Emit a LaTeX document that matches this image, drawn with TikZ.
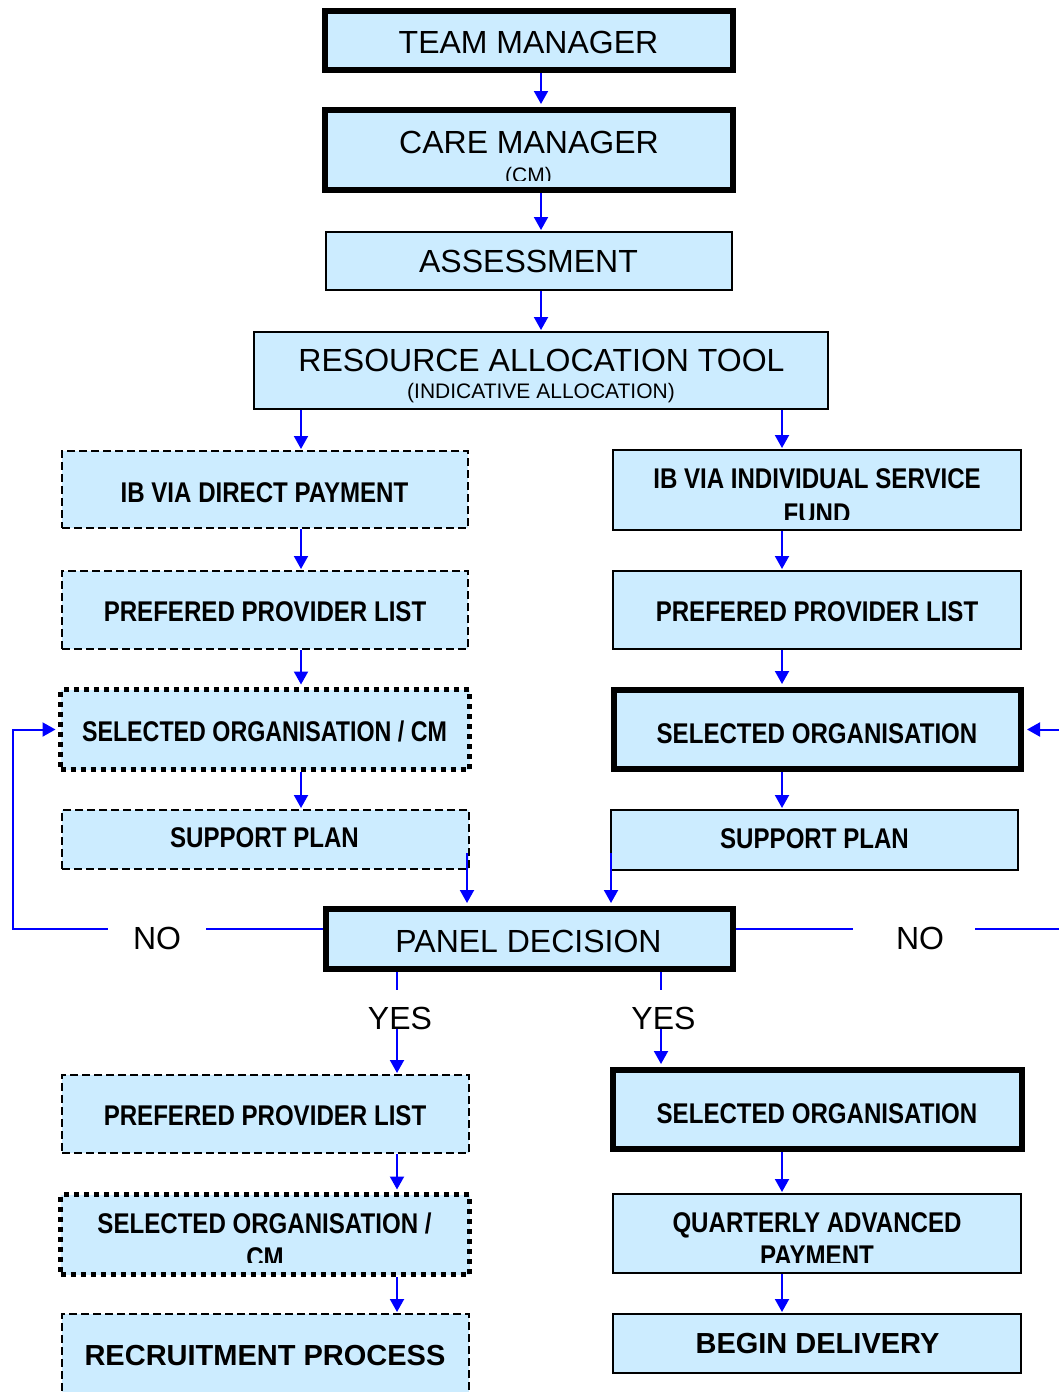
\documentclass[tikz,border=0pt]{standalone}
\usepackage{fontspec}
\setmainfont{Liberation Sans}
\newfontfamily\narrowfont{Liberation Sans}[FakeStretch=0.845]
\usetikzlibrary{arrows.meta}
\definecolor{boxblue}{RGB}{204,236,255}
\definecolor{linkblue}{RGB}{0,0,255}
\begin{document}
\begin{tikzpicture}[x=1pt,y=-1pt,
  base/.style={draw=black, fill=boxblue, inner sep=0pt},
  thinbox/.style={base, line width=2pt},
  thickbox/.style={base, line width=6pt},
  dashbox/.style={base, line width=2pt, dash pattern=on 8pt off 4pt},
  dotbox/.style={base, line width=5pt, dash pattern=on 5pt off 5pt},
  sz/.style 2 args={minimum width=#1pt, minimum height=#2pt},
  reg/.style={anchor=base, inner sep=0pt, font=\fontsize{32}{38}\selectfont},
  small/.style={anchor=base, inner sep=0pt, font=\fontsize{21}{25}\selectfont},
  nb/.style={anchor=base, inner sep=0pt, font=\narrowfont\bfseries\fontsize{28.5}{34}\selectfont},
  wb/.style={anchor=base, inner sep=0pt, font=\bfseries\fontsize{29}{34}\selectfont},
  arr/.style={draw=linkblue, line width=2pt, -{Triangle[width=14pt,length=13pt]}, shorten >=1pt},
  tothick/.style={shorten >=3pt},
  todot/.style={shorten >=2.5pt},
]
\useasboundingbox (0,0) rectangle (1059,1392);
\fill[white] (0,0) rectangle (1059,1392);
\clip (0,0) rectangle (1059,1392);

% ---- top column
\node[thickbox, sz={408}{59}] (tm) at (529,40.5) {};
\node[reg] (tmt) at (528.5,53) {TEAM MANAGER};
\node[thickbox, sz={408}{80}] (cm) at (529,150) {};
\node[reg] (cmt) at (529,153) {CARE MANAGER};
\begin{scope}
  \clip (330,112) rectangle (730,180.5);
  \node[small] (cmt2) at (528.5,182) {(CM)};
\end{scope}
\node[thinbox, sz={406}{58}] (as) at (529,261) {};
\node[reg] (ast) at (528.5,272) {ASSESSMENT};
\node[thinbox, sz={574}{77}] (rat) at (541,370.5) {};
\node[reg] (ratt) at (541.5,371) {RESOURCE ALLOCATION TOOL};
\node[small] (ratt2) at (541,398) {(INDICATIVE ALLOCATION)};

% ---- left column
\node[dashbox, sz={406}{77}] (lib) at (265,489.5) {};
\node[nb] (libt) at (264.5,502) {IB VIA DIRECT PAYMENT};
\node[dashbox, sz={406}{78}] (lppl) at (265,610) {};
\node[nb] (lpplt) at (265,621) {PREFERED PROVIDER LIST};
\node[dotbox, sz={409}{80}] (lsocm) at (265,729.5) {};
\node[nb] (lsocmt) at (264.5,741) {\scalebox{0.965}[1]{SELECTED ORGANISATION / CM}};
\node[dashbox, sz={407}{59}] (lsp) at (265.5,839.5) {};
\node[nb] (lspt) at (264.5,847) {SUPPORT PLAN};

% ---- right column
\node[thinbox, sz={408}{80}] (rib) at (817,490) {};
\node[nb] (ribt) at (817,488) {IB VIA INDIVIDUAL SERVICE};
\begin{scope}
  \clip (620,455) rectangle (1015,519);
  \node[nb] (ribt2) at (817,523.5) {FUND};
\end{scope}
\node[thinbox, sz={408}{78}] (rppl) at (817,610) {};
\node[nb] (rpplt) at (817,621) {PREFERED PROVIDER LIST};
\node[thickbox, sz={407}{79}] (rso) at (817.5,729.5) {};
\node[nb] (rsot) at (817,743) {SELECTED ORGANISATION};
\node[thinbox, sz={407}{60}] (rsp) at (814.5,840) {};
\node[nb] (rspt) at (814.5,848) {SUPPORT PLAN};

% ---- panel
\node[thickbox, sz={407}{60}] (panel) at (529.5,939) {};
\node[reg] (panelt) at (528.5,952) {PANEL DECISION};

% ---- bottom left
\node[dashbox, sz={407}{78}] (lppl2) at (265.5,1114) {};
\node[nb] (lppl2t) at (265,1125) {PREFERED PROVIDER LIST};
\node[dotbox, sz={409}{80}] (lsocm2) at (265,1234.5) {};
\node[nb] (lsocm2t) at (264.5,1233) {SELECTED ORGANISATION /};
\begin{scope}
  \clip (65,1198) rectangle (465,1262);
  \node[nb] (lsocm2t2) at (265,1267) {CM};
\end{scope}
\node[dashbox, sz={407}{125}] (lrp) at (265.5,1376.5) {};
\node[wb] (lrpt) at (265,1365) {RECRUITMENT PROCESS};

% ---- bottom right
\node[thickbox, sz={409}{79}] (rso2) at (817.5,1109.5) {};
\node[nb] (rso2t) at (817,1123) {SELECTED ORGANISATION};
\node[thinbox, sz={408}{79}] (rqap) at (817,1233.5) {};
\node[nb] (rqapt) at (817,1232) {QUARTERLY ADVANCED};
\begin{scope}
  \clip (620,1198) rectangle (1015,1262);
  \node[nb] (rqapt2) at (817,1265.5) {PAYMENT};
\end{scope}
\node[thinbox, sz={408}{59}] (rbd) at (817,1343.5) {};
\node[wb] (rbdt) at (817.5,1353) {BEGIN DELIVERY};

% ---- connector columns
\coordinate (xc) at (541,0);
\coordinate (xl) at (301,0);
\coordinate (xr) at (782,0);
\coordinate (xbl) at (397,0);
\coordinate (xbr) at (661,0);
\coordinate (noy) at (0,929);
\coordinate (lturn) at (13,929);
\coordinate (rturn) at (1085,929);
\coordinate (lspout) at (467,853);
\coordinate (rspout) at (611,853);

\draw[arr,tothick] (tm.south -| xc) -- (cm.north -| xc);
\draw[arr] (cm.south -| xc) -- (as.north -| xc);
\draw[arr] (as.south -| xc) -- (rat.north -| xc);
\draw[arr] (rat.south -| xl) -- (lib.north -| xl);
\draw[arr] (rat.south -| xr) -- (rib.north -| xr);
\draw[arr] (lib.south -| xl) -- (lppl.north -| xl);
\draw[arr,todot] (lppl.south -| xl) -- (lsocm.north -| xl);
\draw[arr] (lsocm.south -| xl) -- (lsp.north -| xl);
\draw[arr] (rib.south -| xr) -- (rppl.north -| xr);
\draw[arr,tothick] (rppl.south -| xr) -- (rso.north -| xr);
\draw[arr] (rso.south -| xr) -- (rsp.north -| xr);
\draw[arr,tothick] (lspout) -- (panel.north -| lspout);
\draw[arr,tothick] (rspout) -- (panel.north -| rspout);

\draw[arr,todot] (panel.west |- noy) -- (lturn) |- (lsocm.west);
\draw[arr,tothick] (panel.east |- noy) -- (rturn) |- (rso.east);
\node[reg, fill=white, minimum width=98pt] (nol) at (157,949) {NO\hspace{12pt}};
\node[reg, fill=white, minimum width=122pt] (nor) at (914,949) {\hspace{12pt}NO};

\draw[arr] (panel.south -| xbl) -- (lppl2.north -| xbl);
\draw[arr,tothick] (panel.south -| xbr) -- (rso2.north -| xbr);
\node[reg, fill=white, text height=39pt, text depth=0pt] (yesl) at (400,1029) {YES};
\node[reg, fill=white, text height=39pt, text depth=0pt] (yesr) at (663.5,1029) {YES};

\draw[arr,todot] (lppl2.south -| xbl) -- (lsocm2.north -| xbl);
\draw[arr] (lsocm2.south -| xbl) -- (lrp.north -| xbl);
\draw[arr] (rso2.south -| xr) -- (rqap.north -| xr);
\draw[arr] (rqap.south -| xr) -- (rbd.north -| xr);
\end{tikzpicture}
\end{document}
